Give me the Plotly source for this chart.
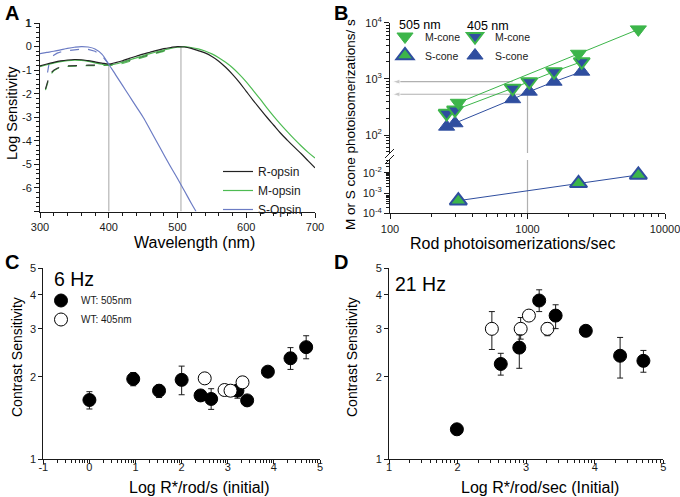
import numpy as np
import plotly.graph_objects as go

W, H = 680, 497
FONT = "Liberation Sans, Arial, sans-serif"
INK = "#1a1a1a"
GREEN = "#3cb54a"
GREEN_A = "#4dbb52"
BLUE_B = "#2f4e9f"
BLUE_A = "#6c7cc4"
GRAY = "#c4c4c4"


def px(x):
    return x / W


def py(y):
    return 1 - y / H


# ---------------- Panel A data: log spectral sensitivity ----------------
wl_full = [300, 310, 320, 330, 340, 350, 360, 370, 380, 390, 400, 410, 420, 430, 440,
           450, 460, 470, 480, 490, 500, 510, 520, 530, 540, 550, 560, 570, 580, 590,
           600, 610, 620, 630, 640, 650, 660, 670, 680, 690, 700]
r_opsin = [-0.82, -0.74, -0.67, -0.61, -0.57, -0.55, -0.56, -0.60, -0.65, -0.70, -0.74,
           -0.68, -0.60, -0.50, -0.41, -0.32, -0.24, -0.16, -0.09, -0.04, 0.0,
           -0.02, -0.08, -0.17, -0.27, -0.42, -0.62, -0.88, -1.18, -1.52, -1.90,
           -2.28, -2.64, -3.00, -3.34, -3.68, -3.98, -4.27, -4.55, -4.85, -5.15]
m_opsin = [-0.85, -0.77, -0.70, -0.64, -0.60, -0.58, -0.59, -0.63, -0.69, -0.75, -0.79,
           -0.74, -0.66, -0.57, -0.48, -0.39, -0.30, -0.22, -0.15, -0.08, -0.03,
           0.0, -0.04, -0.10, -0.19, -0.31, -0.47, -0.67, -0.90, -1.18, -1.50,
           -1.86, -2.22, -2.60, -2.96, -3.30, -3.62, -3.93, -4.22, -4.49, -4.73]
wl_s = [300, 310, 320, 330, 340, 350, 360, 370, 380, 390, 400, 410, 420, 430, 440, 450,
        460, 470, 480, 490, 500, 510, 520, 527]
s_opsin = [-0.30, -0.25, -0.20, -0.14, -0.08, -0.03, 0.0, -0.02, -0.10, -0.32, -0.75,
           -1.20, -1.65, -2.10, -2.55, -3.00, -3.52, -4.05, -4.58, -5.10, -5.60,
           -6.12, -6.65, -7.00]
wl_s_lens = [311, 313, 316, 320, 325, 330, 340, 350, 360, 370, 380, 390, 395, 400]
s_opsin_lens = [-1.10, -0.75, -0.50, -0.37, -0.28, -0.23, -0.17, -0.13, -0.11, -0.12,
                -0.20, -0.38, -0.55, -0.75]
wl_lens = [308, 310, 313, 316, 320, 325, 330, 340, 350, 360, 370, 380, 390, 400, 410,
           420, 430, 440, 450, 460, 470, 480, 490]
r_opsin_lens = [-1.80, -1.55, -1.30, -1.12, -1.00, -0.92, -0.87, -0.82, -0.80, -0.79,
                -0.79, -0.79, -0.79, -0.78, -0.74, -0.67, -0.59, -0.50, -0.41, -0.32,
                -0.23, -0.15, -0.08]
m_opsin_lens = [-1.85, -1.60, -1.35, -1.16, -1.03, -0.94, -0.89, -0.84, -0.82, -0.81,
                -0.81, -0.81, -0.81, -0.81, -0.78, -0.72, -0.64, -0.55, -0.46, -0.37,
                -0.28, -0.20, -0.12]
stim_wl = [400, 505]
a_y_top = 1

# ---------------- Panel B data ----------------
rod_505 = [314, 2350, 6400]
m_cone_505 = [375, 2800, 7600]
s_cone_505 = [4.2e-4, 3.0e-3, 7.8e-3]
rod_405 = [258, 297, 780, 1030, 1560, 2480]
m_cone_405 = [244, 280, 681, 891, 1343, 2023]
s_cone_405 = [141, 162, 434, 592, 891, 1343]
ref_rod = 1000
ref_cone_levels = [891, 532]

# ---------------- Panel C data (6 Hz) ----------------
c_x_505 = [0.0, 0.95, 1.51, 2.0, 2.41, 2.64, 3.21, 3.42, 3.87, 4.36, 4.70]
c_y_505 = [1.645, 1.965, 1.78, 1.95, 1.71, 1.66, 1.78, 1.64, 2.09, 2.34, 2.57]
c_up_505 = [0.12, 0.11, 0.09, 0.24, 0.0, 0.15, 0.09, 0.0, 0.0, 0.22, 0.26]
c_dn_505 = [0.12, 0.11, 0.10, 0.23, 0.0, 0.14, 0.11, 0.0, 0.0, 0.21, 0.24]
c_x_405 = [2.50, 2.93, 3.06, 3.32]
c_y_405 = [1.975, 1.79, 1.78, 1.91]

# ---------------- Panel D data (21 Hz) ----------------
d_x_505 = [1.99, 2.63, 2.90, 3.19, 3.43, 3.87, 4.37, 4.71]
d_y_505 = [1.285, 2.23, 2.56, 3.81, 3.355, 2.95, 2.39, 2.29]
d_up_505 = [0.0, 0.21, 0.29, 0.36, 0.32, 0.08, 0.40, 0.21]
d_dn_505 = [0.0, 0.20, 0.41, 0.34, 0.35, 0.10, 0.41, 0.21]
d_x_405 = [2.50, 2.92, 3.04, 3.31]
d_y_405 = [3.0, 3.0, 3.355, 3.0]
d_up_405 = [0.47, 0.30, 0.0, 0.16]
d_dn_405 = [0.48, 0.25, 0.0, 0.17]

fig = go.Figure()

# ---- Panel A traces ----
for w in stim_wl:
    top = float(np.interp(w, wl_full, r_opsin))
    fig.add_trace(go.Scatter(x=[w, w], y=[-7, top], mode="lines",
                             line=dict(color=GRAY, width=1.5), showlegend=False,
                             hoverinfo="skip", xaxis="x", yaxis="y"))
fig.add_trace(go.Scatter(x=wl_s_lens, y=s_opsin_lens, mode="lines",
                         line=dict(color=BLUE_A, width=1.2, dash="dash"),
                         showlegend=False, xaxis="x", yaxis="y"))
fig.add_trace(go.Scatter(x=wl_lens, y=m_opsin_lens, mode="lines",
                         line=dict(color=GREEN_A, width=1.2, dash="dash"),
                         showlegend=False, xaxis="x", yaxis="y"))
fig.add_trace(go.Scatter(x=wl_lens, y=r_opsin_lens, mode="lines",
                         line=dict(color="#333333", width=1.2, dash="dash"),
                         showlegend=False, xaxis="x", yaxis="y"))
fig.add_trace(go.Scatter(x=wl_full, y=m_opsin, mode="lines", name="M-opsin",
                         line=dict(color=GREEN_A, width=1.2, shape="spline"),
                         legend="legend", legendrank=2, xaxis="x", yaxis="y"))
fig.add_trace(go.Scatter(x=wl_full, y=r_opsin, mode="lines", name="R-opsin",
                         line=dict(color="#222222", width=1.2, shape="spline"),
                         legend="legend", legendrank=1, xaxis="x", yaxis="y"))
fig.add_trace(go.Scatter(x=wl_s, y=s_opsin, mode="lines", name="S-Opsin",
                         line=dict(color=BLUE_A, width=1.2, shape="spline"),
                         legend="legend", legendrank=3, xaxis="x", yaxis="y"))

# ---- Panel B traces ----
fig.add_trace(go.Scatter(x=[ref_rod, ref_rod], y=[10 ** 1.68, ref_cone_levels[1]],
                         mode="lines", line=dict(color="#b0b0b0", width=1.2),
                         showlegend=False, xaxis="x2", yaxis="y2"))
fig.add_trace(go.Scatter(x=[ref_rod, ref_rod], y=[1e-4, 10 ** -1.37],
                         mode="lines", line=dict(color="#b0b0b0", width=1.2),
                         showlegend=False, xaxis="x2", yaxis="y3"))
for lvl, xend in zip(ref_cone_levels, [rod_405[2], ref_rod]):
    fig.add_trace(go.Scatter(x=[xend, 104], y=[lvl, lvl], mode="lines+markers",
                             line=dict(color="#b0b0b0", width=1.2),
                             marker=dict(symbol="arrow", size=[0, 8], angleref="previous",
                                         color="#b0b0b0"),
                             cliponaxis=False, showlegend=False, xaxis="x2", yaxis="y2"))

fig.add_trace(go.Scatter(x=rod_505, y=m_cone_505, mode="lines",
                         line=dict(color=GREEN, width=1), showlegend=False,
                         xaxis="x2", yaxis="y2"))
fig.add_trace(go.Scatter(x=rod_405, y=m_cone_405, mode="lines",
                         line=dict(color=GREEN, width=1), showlegend=False,
                         xaxis="x2", yaxis="y2"))
fig.add_trace(go.Scatter(x=rod_405, y=s_cone_405, mode="lines",
                         line=dict(color=BLUE_B, width=1), showlegend=False,
                         xaxis="x2", yaxis="y2"))
fig.add_trace(go.Scatter(x=rod_505, y=s_cone_505, mode="lines",
                         line=dict(color=BLUE_B, width=1), showlegend=False,
                         xaxis="x2", yaxis="y3"))

fig.add_trace(go.Scatter(x=rod_405, y=s_cone_405, mode="markers", name="S-cone",
                         marker=dict(symbol="triangle-up", size=14, color=BLUE_B,
                                     line=dict(color=BLUE_B, width=1)),
                         cliponaxis=False, legend="legend3", legendrank=2,
                         xaxis="x2", yaxis="y2"))
fig.add_trace(go.Scatter(x=rod_405, y=m_cone_405, mode="markers", name="M-cone",
                         marker=dict(symbol="triangle-down", size=14, color=BLUE_B,
                                     line=dict(color=GREEN, width=2)),
                         cliponaxis=False, legend="legend3", legendrank=1,
                         xaxis="x2", yaxis="y2"))
fig.add_trace(go.Scatter(x=rod_505, y=m_cone_505, mode="markers", name="M-cone",
                         marker=dict(symbol="triangle-down", size=14, color=GREEN,
                                     line=dict(color=GREEN, width=1)),
                         cliponaxis=False, legend="legend2", legendrank=1,
                         xaxis="x2", yaxis="y2"))
fig.add_trace(go.Scatter(x=rod_505, y=s_cone_505, mode="markers", name="S-cone",
                         marker=dict(symbol="triangle-up", size=15, color=GREEN,
                                     line=dict(color=BLUE_B, width=2)),
                         cliponaxis=False, legend="legend2", legendrank=2,
                         xaxis="x2", yaxis="y3"))

# ---- Panel C traces ----
fig.add_trace(go.Scatter(x=c_x_505, y=c_y_505, mode="markers", name="WT: 505nm",
                         marker=dict(symbol="circle", size=13, color="black",
                                     line=dict(color="black", width=1)),
                         error_y=dict(type="data", array=c_up_505, arrayminus=c_dn_505,
                                      color=INK, thickness=1, width=3),
                         cliponaxis=False, legend="legend4", legendrank=1,
                         xaxis="x3", yaxis="y4"))
fig.add_trace(go.Scatter(x=c_x_405, y=c_y_405, mode="markers", name="WT: 405nm",
                         marker=dict(symbol="circle", size=13, color="white",
                                     line=dict(color="black", width=1)),
                         cliponaxis=False, legend="legend4", legendrank=2,
                         xaxis="x3", yaxis="y4"))

# ---- Panel D traces ----
fig.add_trace(go.Scatter(x=d_x_405, y=d_y_405, mode="markers", showlegend=False,
                         marker=dict(symbol="circle", size=13, color="white",
                                     line=dict(color="black", width=1)),
                         error_y=dict(type="data", array=d_up_405, arrayminus=d_dn_405,
                                      color=INK, thickness=1, width=3),
                         cliponaxis=False, xaxis="x4", yaxis="y5"))
fig.add_trace(go.Scatter(x=d_x_505, y=d_y_505, mode="markers", showlegend=False,
                         marker=dict(symbol="circle", size=13, color="black",
                                     line=dict(color="black", width=1)),
                         error_y=dict(type="data", array=d_up_505, arrayminus=d_dn_505,
                                      color=INK, thickness=1, width=3),
                         cliponaxis=False, xaxis="x4", yaxis="y5"))


def ax(**kw):
    base = dict(showline=True, linecolor=INK, linewidth=1, ticks="outside", ticklen=5,
                tickcolor=INK, tickwidth=1, showgrid=False, zeroline=False,
                tickfont=dict(family=FONT, size=11, color=INK), fixedrange=True,
                automargin=False, ticklabeloverflow="allow")
    base.update(kw)
    return base


def minor(vals=None, dtick=None, ln=3):
    m = dict(ticks="outside", ticklen=ln, tickcolor=INK, tickwidth=1, showgrid=False)
    if vals is not None:
        m["tickvals"] = vals
    if dtick is not None:
        m["dtick"] = dtick
    return m


def hy(v):
    return str(v).replace("\u2212", "-")


log_minor = lambda decades: [m * 10 ** d for d in decades for m in range(2, 10)]
lin_log_minor = lambda lo, hi: [k + np.log10(m) for k in range(lo, hi) for m in range(2, 10)]

# alias plotly's unicode minus labels to plain hyphens; hide the -7 label
a_alias = {"\u2212%d" % k: "-%d" % k for k in range(1, 7)}
a_alias["\u22127"] = " "

fig.update_layout(
    xaxis=ax(domain=[px(40), px(315)], range=[300, 700], anchor="y",
             tickmode="linear", tick0=300, dtick=100, minor=minor(dtick=20)),
    yaxis=ax(domain=[py(211.5), py(23)], range=[-7, a_y_top], anchor="x",
             tickmode="linear", tick0=0, dtick=1, labelalias=a_alias,
             minor=minor(dtick=0.2)),
    xaxis2=ax(domain=[px(390), px(665)], type="log", range=[2, 4], anchor="y3",
              tickvals=[100, 1000, 10000], ticktext=["100", "1000", "10000"],
              minor=minor(vals=log_minor([2, 3]))),
    yaxis2=ax(domain=[py(153), py(22.7)], type="log", range=[1.68, 4], anchor="x2",
              tickvals=[100, 1000, 10000],
              ticktext=["10<sup>2</sup>", "10<sup>3</sup>", "10<sup>4</sup>"],
              minor=minor(vals=log_minor([1, 2, 3]))),
    yaxis3=ax(domain=[py(213.3), py(160)], type="log", range=[-4, -1.37], anchor="x2",
              tickvals=[1e-4, 1e-3, 1e-2],
              ticktext=["10<sup>-4</sup>", "10<sup>-3</sup>", "10<sup>-2</sup>"],
              minor=minor(vals=log_minor([-4, -3, -2]))),
    xaxis3=ax(domain=[px(43.3), px(320)], range=[-1, 5], anchor="y4",
              tickvals=list(range(-1, 6)), ticktext=[hy(v) for v in range(-1, 6)],
              ticklen=4, ticklabelstandoff=-6, minor=minor(vals=lin_log_minor(-1, 5))),
    yaxis4=ax(domain=[py(459), py(268.3)], type="log", range=[0, np.log10(5)],
              anchor="x3", ticklen=4, tickvals=[1, 2, 3, 4, 5],
              ticktext=["1", "2", "3", "4", "5"]),
    xaxis4=ax(domain=[px(389), px(663.3)], range=[1, 5], anchor="y5",
              ticklen=4, ticklabelstandoff=-6,
              tickvals=list(range(1, 6)), minor=minor(vals=lin_log_minor(1, 5))),
    yaxis5=ax(domain=[py(459), py(268.3)], type="log", range=[0, np.log10(5)],
              anchor="x4", ticklen=4, tickvals=[1, 2, 3, 4, 5],
              ticktext=["1", "2", "3", "4", "5"]),
)

leg_common = dict(bgcolor="rgba(0,0,0,0)", borderwidth=0, xanchor="left", yanchor="top",
                  tracegroupgap=0, itemclick=False, itemdoubleclick=False, itemwidth=30)
fig.update_layout(
    legend=dict(x=px(218), y=py(157), font=dict(family=FONT, size=12, color=INK),
                **leg_common),
    legend2=dict(x=px(385), y=py(22), font=dict(family=FONT, size=10.5, color=INK),
                 **leg_common),
    legend3=dict(x=px(455), y=py(22), font=dict(family=FONT, size=10.5, color=INK),
                 **leg_common),
    legend4=dict(x=px(41), y=py(286), font=dict(family=FONT, size=10, color=INK),
                 **leg_common),
)

annots = []


def txt(x, y, s, size, bold=False, angle=0, xanchor="center", yanchor="middle"):
    annots.append(dict(x=px(x), y=py(y), xref="paper", yref="paper", text=s,
                       showarrow=False, textangle=angle, xanchor=xanchor, yanchor=yanchor,
                       font=dict(family=FONT, size=size, color="black",
                                 weight="bold" if bold else "normal")))


txt(3, 13, "A", 20, bold=True, xanchor="left")
txt(332, 13, "B", 20, bold=True, xanchor="left")
txt(3, 262, "C", 20, bold=True, xanchor="left")
txt(332, 262, "D", 20, bold=True, xanchor="left")
txt(194, 242, "Wavelength (nm)", 16)
txt(12, 113, "Log Sensitivity", 14.5, angle=-90)
txt(512, 243, "Rod photoisomerizations/sec", 16)
txt(351, 125, "M or S cone photoisomerizations/ s", 13.5, angle=-90)
txt(199, 487, "Log R*/rod/s (initial)", 16)
txt(17, 357, "Contrast Sensitivity", 14, angle=-90)
txt(540, 487, "Log R*/rod/sec (Initial)", 16)
txt(352, 357, "Contrast Sensitivity", 14, angle=-90)
txt(52, 279, "6 Hz", 19.5, xanchor="left")
txt(393, 284, "21 Hz", 19.5, xanchor="left")
txt(420, 25, "505 nm", 12.5)
txt(488, 26, "405 nm", 12.5)
# top tick label of panel A's y axis (plotly drops this end label in this layout)
annots.append(dict(x=0, y=a_y_top, xref="x domain", yref="y", text=str(a_y_top),
                   showarrow=False, xanchor="right", yanchor="middle", xshift=-7,
                   font=dict(family=FONT, size=11, color=INK)))

shapes = []
for dy in (0, 6):
    shapes.append(dict(type="line", xref="paper", yref="paper",
                       x0=px(385), y0=py(158 + dy), x1=px(394), y1=py(149 + dy),
                       line=dict(color=INK, width=1)))

fig.update_layout(
    width=W, height=H, margin=dict(l=0, r=0, t=0, b=0, autoexpand=False),
    paper_bgcolor="white", plot_bgcolor="white",
    font=dict(family=FONT, color=INK),
    annotations=annots, shapes=shapes, hovermode=False,
)

fig.write_html("out.html", config={"displayModeBar": False},
               post_script="document.body.style.margin='0';document.body.style.overflow='hidden';")
